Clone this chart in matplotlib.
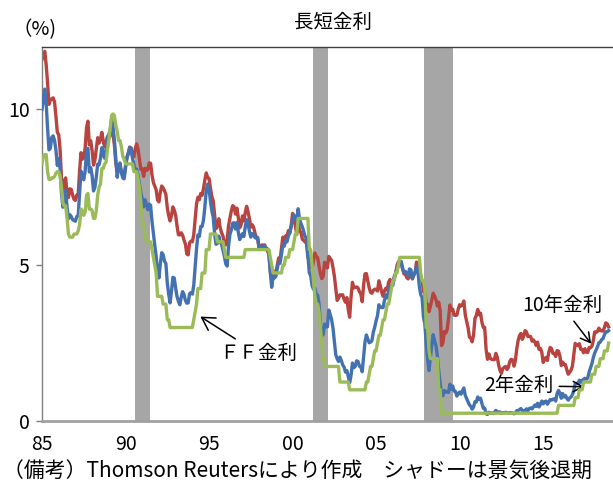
import numpy as np
import matplotlib
matplotlib.use("Agg")
import matplotlib.pyplot as plt

plt.rcParams['font.family'] = ['Noto Sans CJK JP', 'DejaVu Sans']

# monthly values, Jan 1985 - Dec 2018 (%)
rate_10y = [
    11.60, 11.75, 11.86, 11.43, 10.85, 10.16, 10.31, 10.33, 10.37, 10.24, 9.78, 9.26,
    9.19, 8.70, 7.78, 7.30, 7.71, 7.80, 7.30, 7.17, 7.45, 7.43, 7.25, 7.11,
    7.08, 7.25, 7.25, 8.02, 8.61, 8.40, 8.45, 8.76, 9.42, 9.62, 8.86, 8.99,
    8.67, 8.21, 8.37, 8.72, 9.09, 8.92, 9.06, 9.26, 8.98, 8.80, 8.96, 9.11,
    9.09, 9.17, 9.36, 9.18, 8.86, 8.28, 8.02, 8.11, 8.19, 8.01, 7.87, 7.84,
    8.21, 8.47, 8.59, 8.79, 8.76, 8.48, 8.47, 8.75, 8.89, 8.72, 8.39, 8.08,
    8.09, 7.85, 8.11, 8.04, 8.07, 8.28, 8.27, 7.90, 7.65, 7.53, 7.42, 7.09,
    7.03, 7.34, 7.54, 7.48, 7.39, 7.26, 6.84, 6.59, 6.42, 6.59, 6.87, 6.77,
    6.60, 6.26, 5.98, 5.97, 6.04, 5.96, 5.81, 5.68, 5.36, 5.33, 5.72, 5.77,
    5.75, 5.97, 6.48, 6.97, 7.18, 7.10, 7.30, 7.24, 7.46, 7.74, 7.96, 7.81,
    7.78, 7.47, 7.20, 7.06, 6.63, 6.17, 6.28, 6.49, 6.20, 6.04, 5.93, 5.71,
    5.65, 5.81, 6.27, 6.51, 6.74, 6.91, 6.87, 6.64, 6.83, 6.53, 6.20, 6.30,
    6.58, 6.42, 6.69, 6.89, 6.71, 6.49, 6.22, 6.30, 6.21, 6.03, 5.88, 5.81,
    5.54, 5.57, 5.65, 5.64, 5.65, 5.50, 5.46, 5.34, 4.81, 4.53, 4.83, 4.65,
    4.72, 5.00, 5.23, 5.18, 5.54, 5.90, 5.79, 5.94, 5.92, 6.11, 6.03, 6.28,
    6.66, 6.52, 6.26, 5.99, 6.44, 6.10, 6.05, 5.83, 5.80, 5.74, 5.72, 5.24,
    5.16, 5.10, 4.89, 5.14, 5.39, 5.28, 5.24, 4.97, 4.73, 4.57, 4.65, 5.09,
    5.04, 4.91, 5.28, 5.21, 5.16, 4.93, 4.65, 4.26, 3.87, 3.94, 4.05, 4.03,
    4.05, 3.90, 3.81, 3.96, 3.57, 3.33, 3.98, 4.45, 4.27, 4.29, 4.30, 4.27,
    4.15, 4.08, 3.83, 4.35, 4.72, 4.73, 4.50, 4.28, 4.13, 4.10, 4.19, 4.23,
    4.22, 4.17, 4.50, 4.34, 4.14, 4.00, 4.18, 4.26, 4.20, 4.46, 4.54, 4.47,
    4.42, 4.57, 4.72, 4.99, 5.11, 5.11, 5.09, 4.88, 4.72, 4.73, 4.60, 4.56,
    4.76, 4.72, 4.56, 4.69, 4.75, 5.10, 5.00, 4.67, 4.52, 4.53, 4.15, 4.10,
    3.74, 3.74, 3.51, 3.68, 3.88, 4.10, 4.01, 3.89, 3.69, 3.81, 3.53, 2.42,
    2.52, 2.87, 2.82, 2.93, 3.29, 3.72, 3.56, 3.59, 3.40, 3.39, 3.40, 3.59,
    3.73, 3.69, 3.73, 3.85, 3.42, 3.20, 3.01, 2.70, 2.65, 2.54, 2.76, 3.29,
    3.39, 3.58, 3.41, 3.46, 3.17, 3.00, 3.00, 2.30, 1.98, 2.15, 2.01, 1.98,
    1.97, 1.97, 2.17, 2.05, 1.80, 1.62, 1.53, 1.68, 1.72, 1.75, 1.65, 1.72,
    1.91, 1.98, 1.96, 1.76, 1.93, 2.30, 2.58, 2.74, 2.81, 2.62, 2.72, 2.90,
    2.86, 2.71, 2.72, 2.71, 2.56, 2.60, 2.54, 2.42, 2.53, 2.30, 2.33, 2.21,
    1.88, 1.98, 2.04, 1.94, 2.20, 2.36, 2.32, 2.17, 2.17, 2.07, 2.26, 2.24,
    2.09, 1.78, 1.89, 1.81, 1.81, 1.64, 1.50, 1.56, 1.63, 1.76, 2.14, 2.49,
    2.43, 2.42, 2.48, 2.30, 2.30, 2.19, 2.32, 2.21, 2.20, 2.36, 2.35, 2.40,
    2.58, 2.86, 2.84, 2.87, 2.98, 2.91, 2.89, 2.89, 3.00, 3.15, 3.12, 3.02,
]

rate_2y = [
    10.00, 10.30, 10.65, 10.20, 9.40, 8.70, 8.75, 9.10, 9.15, 9.00, 8.70, 8.20,
    8.41, 8.10, 7.30, 6.86, 7.27, 7.41, 6.86, 6.49, 6.62, 6.56, 6.46, 6.43,
    6.41, 6.56, 6.58, 7.32, 8.02, 7.82, 7.74, 8.03, 8.67, 8.75, 7.99, 8.13,
    7.87, 7.38, 7.50, 7.83, 8.24, 8.22, 8.44, 8.77, 8.57, 8.43, 8.72, 9.11,
    9.19, 9.34, 9.68, 9.45, 9.02, 8.41, 7.82, 8.14, 8.28, 7.98, 7.80, 7.77,
    8.12, 8.42, 8.60, 8.77, 8.74, 8.43, 8.24, 8.03, 8.08, 7.86, 7.60, 7.31,
    7.13, 6.87, 7.10, 6.95, 6.78, 6.96, 6.92, 6.41, 6.01, 5.64, 5.29, 4.81,
    4.59, 5.04, 5.40, 5.34, 5.13, 5.05, 4.43, 4.07, 3.79, 4.15, 4.61, 4.59,
    4.27, 3.99, 3.84, 3.73, 3.97, 4.15, 4.06, 3.87, 3.78, 3.79, 4.08, 4.12,
    4.07, 4.35, 4.95, 5.53, 5.97, 5.92, 6.24, 6.24, 6.45, 6.87, 7.41, 7.60,
    7.44, 7.05, 6.74, 6.54, 6.00, 5.67, 5.70, 5.93, 5.75, 5.67, 5.48, 5.29,
    5.04, 4.97, 5.62, 5.99, 6.13, 6.35, 6.36, 6.16, 6.37, 6.06, 5.82, 5.91,
    6.01, 5.92, 6.23, 6.46, 6.31, 6.09, 5.90, 6.01, 5.99, 5.88, 5.88, 5.89,
    5.50, 5.51, 5.61, 5.61, 5.59, 5.56, 5.52, 5.37, 4.76, 4.29, 4.64, 4.59,
    4.64, 4.90, 5.09, 5.06, 5.34, 5.66, 5.61, 5.79, 5.75, 5.94, 6.04, 6.24,
    6.44, 6.61, 6.53, 6.40, 6.81, 6.48, 6.34, 6.23, 6.08, 5.91, 5.88, 5.34,
    4.76, 4.66, 4.34, 4.23, 4.26, 4.08, 4.04, 3.76, 3.12, 2.73, 2.78, 3.11,
    3.03, 3.02, 3.56, 3.42, 3.26, 2.99, 2.56, 2.13, 2.00, 1.91, 2.05, 1.94,
    1.80, 1.73, 1.57, 1.62, 1.42, 1.23, 1.47, 1.86, 1.71, 1.75, 1.93, 1.91,
    1.76, 1.74, 1.58, 2.07, 2.53, 2.76, 2.64, 2.51, 2.53, 2.58, 2.85, 3.01,
    3.22, 3.38, 3.73, 3.65, 3.64, 3.64, 3.87, 4.04, 3.95, 4.17, 4.33, 4.37,
    4.35, 4.64, 4.74, 4.89, 4.97, 5.12, 5.12, 4.90, 4.77, 4.80, 4.74, 4.67,
    4.88, 4.85, 4.57, 4.67, 4.77, 4.96, 4.82, 4.34, 4.06, 3.97, 3.34, 3.12,
    2.48, 1.97, 1.62, 2.05, 2.45, 2.77, 2.57, 2.42, 2.08, 1.61, 1.21, 0.82,
    0.81, 0.98, 0.93, 0.93, 0.92, 1.18, 1.02, 1.12, 0.96, 0.95, 0.80, 0.87,
    0.93, 0.86, 0.96, 1.06, 0.83, 0.72, 0.62, 0.52, 0.47, 0.38, 0.45, 0.62,
    0.61, 0.77, 0.70, 0.73, 0.56, 0.41, 0.41, 0.23, 0.21, 0.28, 0.25, 0.26,
    0.24, 0.28, 0.34, 0.29, 0.29, 0.29, 0.25, 0.27, 0.26, 0.28, 0.27, 0.26,
    0.27, 0.27, 0.26, 0.23, 0.25, 0.33, 0.34, 0.36, 0.40, 0.34, 0.30, 0.34,
    0.39, 0.33, 0.40, 0.42, 0.39, 0.45, 0.51, 0.47, 0.57, 0.45, 0.53, 0.64,
    0.55, 0.62, 0.64, 0.54, 0.61, 0.69, 0.67, 0.70, 0.71, 0.64, 0.88, 0.98,
    0.90, 0.73, 0.88, 0.77, 0.82, 0.73, 0.67, 0.74, 0.77, 0.84, 0.98, 1.20,
    1.21, 1.20, 1.31, 1.24, 1.30, 1.34, 1.37, 1.34, 1.38, 1.57, 1.70, 1.84,
    2.03, 2.18, 2.28, 2.38, 2.51, 2.53, 2.61, 2.64, 2.77, 2.86, 2.86, 2.90,
]

rate_ff = [
    8.25, 8.50, 8.55, 8.55, 8.00, 7.75, 7.75, 7.80, 7.80, 7.85, 7.95, 8.00,
    8.00, 7.85, 7.50, 7.00, 6.90, 6.90, 6.50, 6.00, 5.90, 5.90, 5.90, 6.00,
    6.00, 6.00, 6.10, 6.30, 6.80, 6.75, 6.60, 6.70, 7.25, 7.30, 6.80, 6.80,
    6.75, 6.50, 6.50, 6.75, 7.25, 7.50, 7.60, 8.10, 8.10, 8.25, 8.30, 8.70,
    9.00, 9.40, 9.80, 9.85, 9.80, 9.50, 9.30, 9.00, 9.00, 8.80, 8.50, 8.40,
    8.25, 8.25, 8.25, 8.25, 8.25, 8.25, 8.00, 8.00, 8.00, 7.75, 7.50, 7.00,
    6.50, 6.25, 6.00, 5.75, 5.75, 5.75, 5.75, 5.50, 5.25, 5.00, 4.75, 4.00,
    4.00, 4.00, 4.00, 3.75, 3.75, 3.75, 3.25, 3.25, 3.00, 3.00, 3.00, 3.00,
    3.00, 3.00, 3.00, 3.00, 3.00, 3.00, 3.00, 3.00, 3.00, 3.00, 3.00, 3.00,
    3.00, 3.25, 3.50, 3.75, 4.25, 4.25, 4.25, 4.75, 4.75, 4.75, 5.50, 5.50,
    5.50, 6.00, 6.00, 6.00, 6.00, 6.00, 5.75, 5.75, 5.75, 5.75, 5.75, 5.50,
    5.25, 5.25, 5.25, 5.25, 5.25, 5.25, 5.25, 5.25, 5.25, 5.25, 5.25, 5.25,
    5.25, 5.25, 5.50, 5.50, 5.50, 5.50, 5.50, 5.50, 5.50, 5.50, 5.50, 5.50,
    5.50, 5.50, 5.50, 5.50, 5.50, 5.50, 5.50, 5.50, 5.25, 5.00, 4.75, 4.75,
    4.75, 4.75, 4.75, 4.75, 4.75, 5.00, 5.00, 5.25, 5.25, 5.25, 5.50, 5.50,
    5.50, 5.75, 6.00, 6.00, 6.50, 6.50, 6.50, 6.50, 6.50, 6.50, 6.50, 6.50,
    5.50, 5.50, 5.00, 4.50, 4.00, 3.75, 3.75, 3.50, 3.00, 2.50, 2.00, 1.75,
    1.75, 1.75, 1.75, 1.75, 1.75, 1.75, 1.75, 1.75, 1.75, 1.75, 1.25, 1.25,
    1.25, 1.25, 1.25, 1.25, 1.25, 1.00, 1.00, 1.00, 1.00, 1.00, 1.00, 1.00,
    1.00, 1.00, 1.00, 1.00, 1.00, 1.25, 1.25, 1.50, 1.75, 1.75, 2.00, 2.25,
    2.25, 2.50, 2.75, 2.75, 3.00, 3.25, 3.25, 3.50, 3.75, 3.75, 4.00, 4.25,
    4.50, 4.50, 4.75, 4.75, 5.00, 5.25, 5.25, 5.25, 5.25, 5.25, 5.25, 5.25,
    5.25, 5.25, 5.25, 5.25, 5.25, 5.25, 5.25, 5.25, 4.75, 4.50, 4.50, 4.25,
    3.00, 3.00, 2.25, 2.00, 2.00, 2.00, 2.00, 2.00, 2.00, 1.00, 1.00, 0.25,
    0.25, 0.25, 0.25, 0.25, 0.25, 0.25, 0.25, 0.25, 0.25, 0.25, 0.25, 0.25,
    0.25, 0.25, 0.25, 0.25, 0.25, 0.25, 0.25, 0.25, 0.25, 0.25, 0.25, 0.25,
    0.25, 0.25, 0.25, 0.25, 0.25, 0.25, 0.25, 0.25, 0.25, 0.25, 0.25, 0.25,
    0.25, 0.25, 0.25, 0.25, 0.25, 0.25, 0.25, 0.25, 0.25, 0.25, 0.25, 0.25,
    0.25, 0.25, 0.25, 0.25, 0.25, 0.25, 0.25, 0.25, 0.25, 0.25, 0.25, 0.25,
    0.25, 0.25, 0.25, 0.25, 0.25, 0.25, 0.25, 0.25, 0.25, 0.25, 0.25, 0.25,
    0.25, 0.25, 0.25, 0.25, 0.25, 0.25, 0.25, 0.25, 0.25, 0.25, 0.25, 0.50,
    0.50, 0.50, 0.50, 0.50, 0.50, 0.50, 0.50, 0.50, 0.50, 0.50, 0.50, 0.75,
    0.75, 0.75, 1.00, 1.00, 1.00, 1.25, 1.25, 1.25, 1.25, 1.25, 1.25, 1.50,
    1.50, 1.50, 1.75, 1.75, 1.75, 2.00, 2.00, 2.00, 2.25, 2.25, 2.25, 2.50,
]

# recessions (shaded)
rec_start = [1990.55, 2001.2, 2007.87]
rec_end = [1991.45, 2002.1, 2009.6]

xticks = [1985, 1990, 1995, 2000, 2005, 2010, 2015]
xlabels = ['85', '90', '95', '00', '05', '10', '15']

t = 1985 + np.arange(len(rate_10y)) / 12.0

fig = plt.figure(figsize=(6.13, 4.92), dpi=100)
ax = fig.add_axes([42/613, 1 - 421/492, 571/613, 374/492])

for a, b in zip(rec_start, rec_end):
    ax.axvspan(a, b, color='#A6A6A6', lw=0, zorder=0)

ax.plot(t, rate_10y, color='#B8433F', lw=2.4, solid_joinstyle='round', zorder=2)
ax.plot(t, rate_2y, color='#4472B0', lw=2.4, solid_joinstyle='round', zorder=3)
ax.plot(t, rate_ff, color='#9BBB59', lw=2.4, solid_joinstyle='round', zorder=4)

ax.set_xlim(1985, 2019.18)
ax.set_ylim(0, 12)
ax.set_xticks(xticks)
ax.set_xticklabels(xlabels)
ax.set_yticks([0, 5, 10])
ax.tick_params(axis='x', length=0, pad=9, labelsize=14)
ax.tick_params(axis='y', length=4, width=1, color='#808080', pad=5, labelsize=14)

ax.spines['right'].set_visible(False)
ax.spines['top'].set_color('#404040')
ax.spines['top'].set_linewidth(1.0)
ax.spines['left'].set_color('#808080')
ax.spines['left'].set_linewidth(1.0)
ax.spines['bottom'].set_color('#A0A0A0')
ax.spines['bottom'].set_linewidth(2.0)

big_head = dict(arrowstyle='->,head_length=0.6,head_width=0.35', color='black',
                lw=1.1, shrinkA=2, shrinkB=0, mutation_scale=15)
small_head = dict(arrowstyle='->,head_length=0.45,head_width=0.25', color='black',
                  lw=1.1, shrinkA=2, shrinkB=0, mutation_scale=15)

ax.annotate('ＦＦ金利', xy=(1994.48, 3.35), xytext=(1997.96, 2.16),
            ha='center', va='center', fontsize=14, arrowprops=big_head)
ax.annotate('10年金利', xy=(2017.87, 2.48), xytext=(2016.13, 3.70),
            ha='center', va='center', fontsize=14, arrowprops=small_head)
ax.annotate('2年金利', xy=(2017.45, 1.10), xytext=(2013.55, 1.13),
            ha='center', va='center', fontsize=14, arrowprops=small_head)

fig.text(333/613, 1 - 22/492, '長短金利', ha='center', va='center', fontsize=14)
fig.text(34/613, 1 - 30/492, '（%)', ha='center', va='center', fontsize=14)
fig.text(3/613, 1 - 472/492, '（備考）Thomson Reutersにより作成　シャドーは景気後退期',
         ha='left', va='center', fontsize=15)

fig.savefig('out.png', dpi=100)
